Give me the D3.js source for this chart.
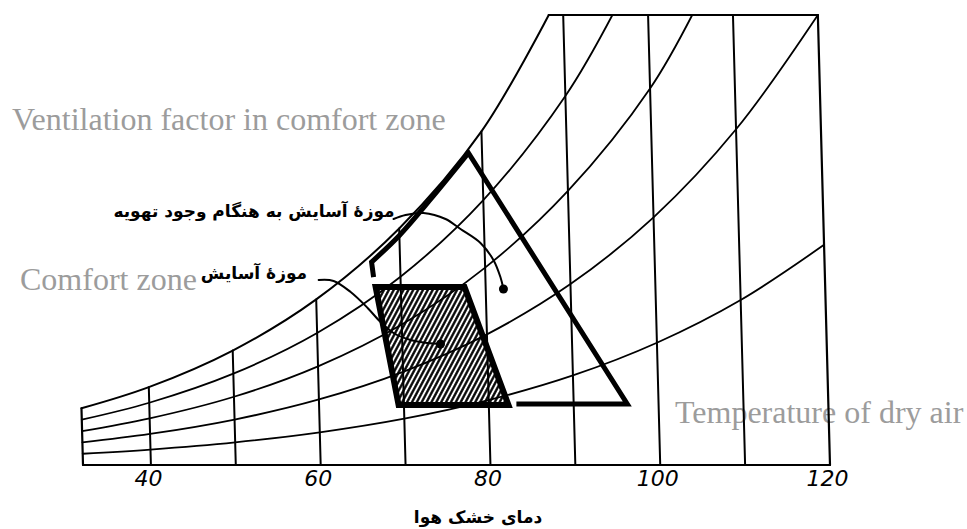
<!DOCTYPE html>
<html><head><meta charset="utf-8">
<script src="https://cdn.jsdelivr.net/npm/d3@7"></script>
<style>body{margin:0;background:#fff;} svg{display:block}</style>
</head><body><svg id="c" width="967" height="529"></svg>
<script>
// ---------- data (dry-bulb °F, humidity ratio g/kg) ----------
const dryBulbTemps = [40, 50, 60, 70, 80, 90, 100, 110];
const dryBulbTopW  = [5.19, 7.63, 11.04, 15.77, 22.24, 30, 30, 30];
const tickLabels = [40, 60, 80, 100, 120];
const saturation = [[32,3.78],[40,5.19],[50,7.63],[60,11.04],[70,15.77],[80,22.24],[88.3,30]];
const rh80 = [[32,3.02],[40,4.15],[50,6.09],[60,8.80],[70,12.55],[80,17.66],[90,24.6],[95.8,30]];
const rh60 = [[32,2.26],[40,3.11],[50,4.55],[60,6.58],[70,9.37],[80,13.16],[90,18.27],[100,25.1],[105.2,30]];
const rh40 = [[32,1.51],[40,2.07],[50,3.03],[60,4.37],[70,6.21],[80,8.71],[90,12.06],[100,16.51],[110,22.38],[120,30]];
const rh20 = [[32,0.75],[40,1.03],[50,1.51],[60,2.18],[70,3.09],[80,4.33],[90,5.97],[100,8.15],[110,11.0],[120,14.68]];
const frameBase  = [[32,0],[120,0]];
const frameLeft  = [[32,0],[32,3.78]];
const frameRight = [[120,0],[120,30]];
const frameTop   = [[88.3,30],[120,30]];
const comfortZone = [[67.04,11.87],[77.51,11.87],[82.31,4.0],[69.37,4.0]];
// ventilation zone: stub, upper-left edge just under the saturation curve, then straight sides
const ventStub = [66.83,12.53];
const ventUpperEdge = [[66.64,13.53],[70,15.3],[74,17.85],[78.4,20.8]];
const ventLowerEdge = [[96.31,4.07],[83.25,4.07]];
const leaderVent = [[69.37,16.4],[70.79,16.67],[72.92,16.8],[75.49,16.4],[77.22,15.73],[79.53,14.8],[81.0,13.67],[81.77,12.53],[82.09,11.73]];
const leaderComfort = [[60.35,12.33],[62.11,12.27],[64.08,11.53],[66.03,10.47],[67.51,9.53],[69.0,8.8],[70.99,8.33],[72.98,8.13],[74.5,8.07]];
const labelVent = "موزهٔ آسایش به هنگام وجود تهویه";
const labelComfort = "موزهٔ آسایش";
const labelAxis = "دمای خشک هوا";
const enVent = "Ventilation factor in comfort zone";
const enComfort = "Comfort zone";
const enAxis = "Temperature of dry air";

// ---------- scales ----------
const svg = d3.select("#c");
const x = d3.scaleLinear().domain([32, 120]).range([83, 830]);
const y = d3.scaleLinear().domain([0, 30]).range([465, 15]);
const SKEW = 0.027;
const P = d => [x(d[0]) - SKEW * (y(0) - y(d[1])), y(d[1])];
const smooth = d3.line().x(d => P(d)[0]).y(d => P(d)[1]).curve(d3.curveCatmullRom.alpha(0.5));
const straight = d3.line().x(d => P(d)[0]).y(d => P(d)[1]);

// ---------- gray english texts ----------
const gray = "#9c9c9c";
const serif = "'Times New Roman','Liberation Serif',serif";
svg.append("text").attr("x", 12).attr("y", 130).attr("fill", gray)
  .style("font-family", serif).style("font-size", "32px").text(enVent);
svg.append("text").attr("x", 20).attr("y", 290).attr("fill", gray)
  .style("font-family", serif).style("font-size", "32px").text(enComfort);
svg.append("text").attr("x", 675).attr("y", 423).attr("fill", gray)
  .style("font-family", serif).style("font-size", "32px").text(enAxis);

// ---------- hatch ----------
const defs = svg.append("defs");
defs.append("pattern").attr("id", "hatch").attr("patternUnits", "userSpaceOnUse")
  .attr("width", 4.3).attr("height", 10).attr("patternTransform", "rotate(28)")
  .append("line").attr("x1", 2.15).attr("y1", -1).attr("x2", 2.15).attr("y2", 11)
  .attr("stroke", "#000").attr("stroke-width", 2.3);

const g = svg.append("g").attr("fill", "none").attr("stroke", "#000")
  .attr("stroke-linecap", "round").attr("stroke-linejoin", "round");

// grid: dry-bulb lines
dryBulbTemps.forEach((t, i) => {
  g.append("path").attr("d", straight([[t, 0], [t, dryBulbTopW[i]]])).attr("stroke-width", 2);
});
// frame
[frameBase, frameLeft, frameRight, frameTop].forEach(f =>
  g.append("path").attr("d", straight(f)).attr("stroke-width", 2.2));
// RH curves & saturation
[rh20, rh40, rh60, rh80].forEach(c => g.append("path").attr("d", smooth(c)).attr("stroke-width", 1.8));
g.append("path").attr("d", smooth(saturation)).attr("stroke-width", 2);

// comfort zone (hatched)
g.append("path").attr("d", straight(comfortZone) + "Z").attr("fill", "url(#hatch)")
  .attr("stroke-width", 6).attr("stroke-linejoin", "miter");

// ventilation zone outline
const ventPath = "M" + P(ventStub).join(",") + "L" + smooth(ventUpperEdge).slice(1)
  + ventLowerEdge.map(d => "L" + P(d).join(",")).join("");
g.append("path").attr("d", ventPath).attr("stroke-width", 5)
  .attr("stroke-linejoin", "miter").attr("stroke-linecap", "butt");

// leaders
[leaderVent, leaderComfort].forEach(l => {
  g.append("path").attr("d", smooth(l)).attr("stroke-width", 2);
  const e = P(l[l.length - 1]);
  svg.append("circle").attr("cx", e[0]).attr("cy", e[1]).attr("r", 4.5).attr("fill", "#000");
});

// axis tick labels
const axis = d3.axisBottom(x).tickValues(tickLabels).tickSize(0).tickPadding(5).tickFormat(d3.format("d"));
const ax = svg.append("g").attr("transform", `translate(-3,${y(0)})`).call(axis);
ax.select(".domain").remove();
ax.selectAll("text").style("font-family", "'DejaVu Sans',sans-serif").style("font-style", "italic")
  .style("font-size", "22px").attr("fill", "#000");

// persian labels
const fa = "'DejaVu Sans',sans-serif";
svg.append("text").attr("x", 254).attr("y", 217).attr("text-anchor", "middle")
  .style("font-family", fa).style("font-size", "17px").style("font-weight", "bold").text(labelVent);
svg.append("text").attr("x", 254).attr("y", 279).attr("text-anchor", "middle")
  .style("font-family", fa).style("font-size", "17px").style("font-weight", "bold").text(labelComfort);
svg.append("text").attr("x", 478).attr("y", 523).attr("text-anchor", "middle")
  .style("font-family", fa).style("font-size", "17px").style("font-weight", "bold").text(labelAxis);
</script></body></html>
